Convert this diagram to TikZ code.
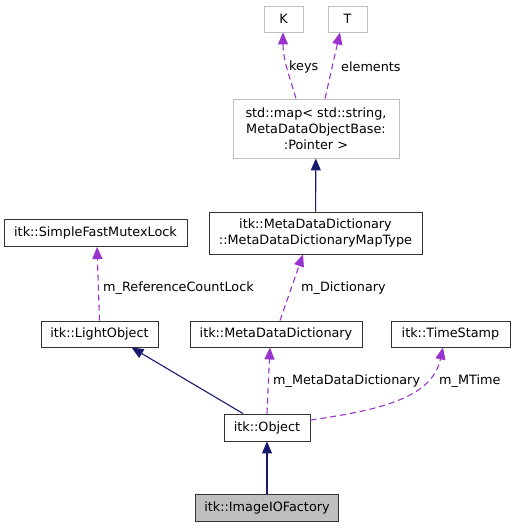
\documentclass[tikz,border=0pt]{standalone}
\usepackage{fontspec}
\setmainfont{DejaVu Sans}
\usetikzlibrary{arrows.meta}
\definecolor{inhcol}{HTML}{191970}
\definecolor{usecol}{HTML}{9A32CD}
\definecolor{tplgray}{HTML}{BFBFBF}

\begin{document}
\begin{tikzpicture}[x=1pt,y=-1pt,font=\fontsize{12.8}{15.8}\selectfont,
  cls/.style={draw=black!80,line width=0.9pt,fill=white,inner sep=0pt,align=center},
  tpl/.style={cls,draw=tplgray},
  cur/.style={cls,fill=tplgray},
  inh/.style={draw=inhcol,line width=1.1pt,-{Triangle[length=12pt,width=10pt]}},
  use/.style={draw=usecol,line width=1.1pt,dash pattern=on 6pt off 4pt,-{Triangle[length=12pt,width=10pt]}},
  lbl/.style={inner sep=0pt,anchor=west}]
\useasboundingbox (0,0) rectangle (515,528);

\node[tpl,minimum width=39,minimum height=26] (K) at (283.5,19) {K};
\node[tpl,minimum width=39,minimum height=26] (T) at (347.5,19) {T};
\node[tpl,minimum width=166,minimum height=59] (map) at (316,128.5) {std::map< std::string,\\ MetaDataObjectBase:\\ :Pointer >};
\node[cls,minimum width=213,minimum height=42] (maptype) at (315.5,233) {itk::MetaDataDictionary\\ ::MetaDataDictionaryMapType};
\node[cls,minimum width=183,minimum height=27] (mutex) at (95.5,233) {itk::SimpleFastMutexLock};
\node[cls,minimum width=117,minimum height=26] (light) at (99.5,334) {itk::LightObject};
\node[cls,minimum width=172,minimum height=26] (mdd) at (276,334) {itk::MetaDataDictionary};
\node[cls,minimum width=119,minimum height=26] (stamp) at (450.5,334) {itk::TimeStamp};
\node[cls,minimum width=86,minimum height=27] (obj) at (267,427.5) {itk::Object};
\node[cur,minimum width=143,minimum height=27] (factory) at (267,507.5) {itk::ImageIOFactory};

\node[lbl] (lkeys) at (289,67) {keys};
\node[lbl] (lelem) at (341,67) {elements};
\node[lbl] (llock) at (103,288) {m\_ReferenceCountLock};
\node[lbl] (ldict) at (301,288) {m\_Dictionary};
\node[lbl] (lmdd) at (273,381) {m\_MetaDataDictionary};
\node[lbl] (ltime) at (439,381) {m\_MTime};

% inheritance
\draw[inh] (factory) -- (obj);
\draw[inh] ([xshift=-24]obj.north) -- ([xshift=32]light.south);
\draw[inh] (maptype) -- (map);

% members
\draw[use] ([xshift=-20]map.north) .. controls (290,78) and (283,60) .. ([xshift=-0.5]K.south);
\draw[use] ([xshift=9]map.north) -- ([xshift=-7.5]T.south);
\draw[use] ([xshift=4]mdd.north) -- ([xshift=-12.5]maptype.south);
\draw[use] (light.north) -- ([xshift=1.5]mutex.south);
\draw[use] (obj.north) -- ([xshift=-6]mdd.south);
\draw[use] ([yshift=7.5pt]obj.east) .. controls (380,410) and (432,398) .. ([xshift=-7.5]stamp.south);
\end{tikzpicture}
\end{document}
